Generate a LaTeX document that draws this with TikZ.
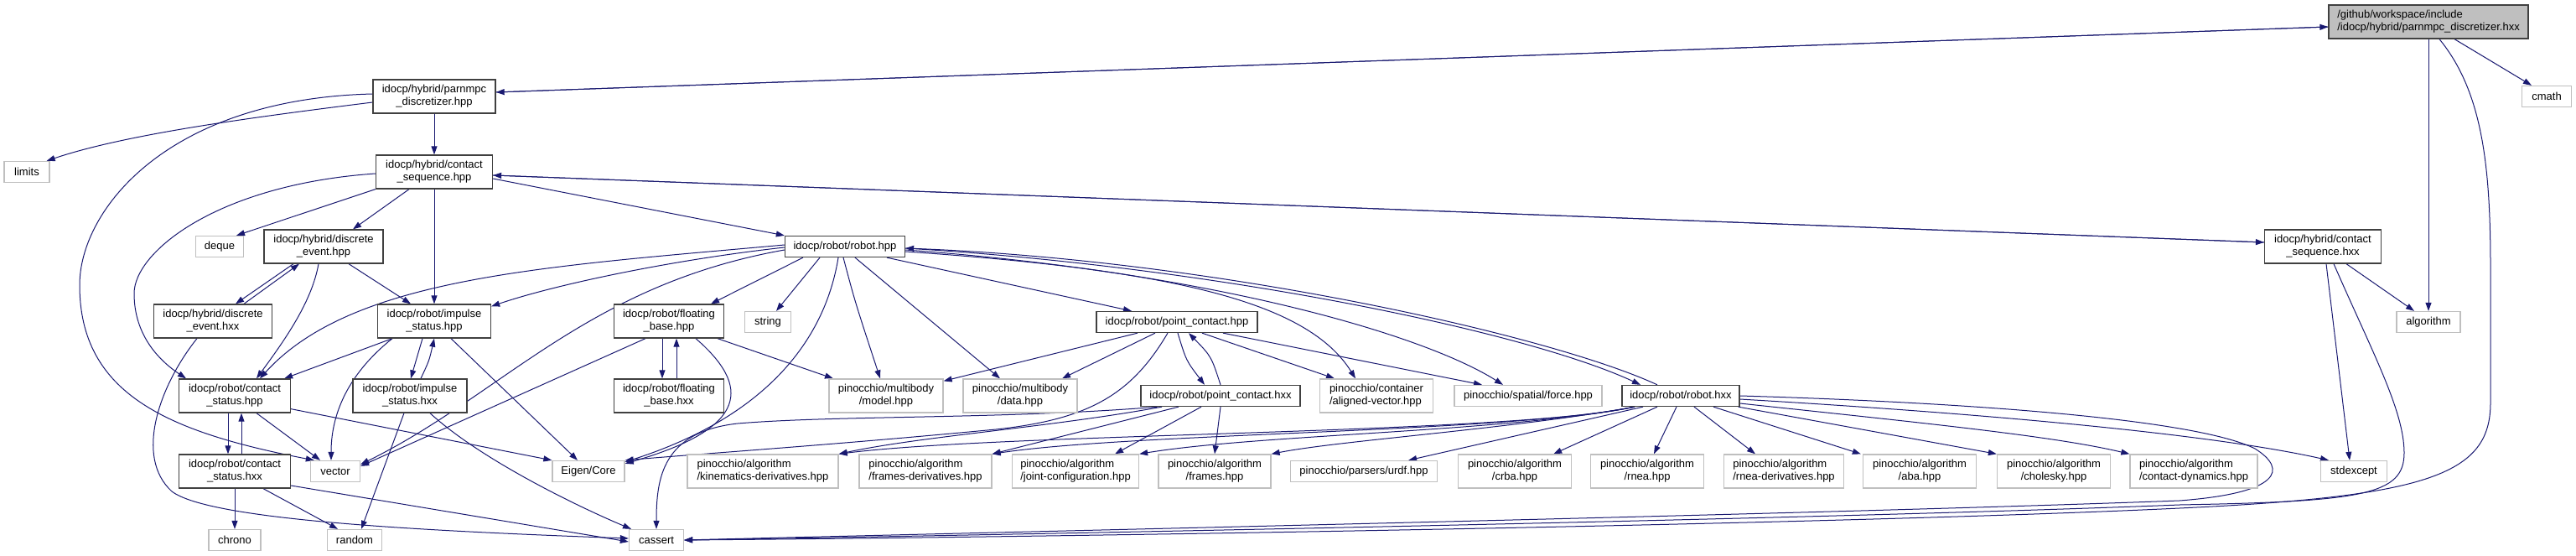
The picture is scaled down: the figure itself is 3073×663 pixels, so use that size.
\documentclass[tikz,border=0pt]{standalone}
\usepackage{fontspec}
\setmainfont{Liberation Sans}
\usetikzlibrary{arrows.meta}
\definecolor{edgeblue}{RGB}{25,25,112}
\definecolor{nodegray}{RGB}{191,191,191}
\definecolor{darkborder}{RGB}{64,64,64}
\pgfdeclarelayer{background}
\pgfsetlayers{background,main}
\begin{document}
\begin{tikzpicture}[x=1pt,y=-1pt,
  every node/.style={font=\fontsize{13}{15}\selectfont, inner xsep=4pt, inner ysep=2pt},
  box/.style={draw=darkborder, fill=white, line width=1.3pt, align=center},
  sysbox/.style={draw=nodegray, fill=white, line width=1.3pt, align=center},
  one/.style={minimum height=25pt},
  two/.style={minimum height=40pt},
  edge/.style={draw=edgeblue, line width=1pt, -{Triangle[length=10pt,width=7pt]}}
]
\useasboundingbox (0,0) rectangle (3073,663);

% ---------- nodes ----------
\node[box,fill=nodegray,two,align=left,minimum width=238pt] (main) at (2897,26) {/github/workspace/include\\/idocp/hybrid/parnmpc\_discretizer.hxx};
\node[sysbox,one,minimum width=59pt] (cmath) at (3038,115) {cmath};
\node[box,two,minimum width=146pt] (pdhpp) at (518,115) {idocp/hybrid/parnmpc\\\_discretizer.hpp};
\node[sysbox,one,minimum width=54pt] (limits) at (32,205) {limits};
\node[box,two,minimum width=139pt] (cshpp) at (518,205) {idocp/hybrid/contact\\\_sequence.hpp};
\node[sysbox,one,minimum width=57pt] (deque) at (262,294) {deque};
\node[box,two,minimum width=142pt] (dehpp) at (386,294) {idocp/hybrid/discrete\\\_event.hpp};
\node[box,one,minimum width=143pt] (robothpp) at (1008,294) {idocp/robot/robot.hpp};
\node[box,two,minimum width=139pt] (cshxx) at (2771,294) {idocp/hybrid/contact\\\_sequence.hxx};
\node[box,two,minimum width=141pt] (dehxx) at (254,383) {idocp/hybrid/discrete\\\_event.hxx};
\node[box,two,minimum width=135pt] (ishpp) at (518,383) {idocp/robot/impulse\\\_status.hpp};
\node[box,two,minimum width=131pt] (fbhpp) at (798,383) {idocp/robot/floating\\\_base.hpp};
\node[sysbox,one,minimum width=55pt] (string) at (916,384) {string};
\node[box,one,minimum width=192pt] (pchpp) at (1404,384) {idocp/robot/point\_contact.hpp};
\node[sysbox,one,minimum width=76pt] (algorithm) at (2897,384) {algorithm};
\node[box,two,minimum width=133pt] (csthpp) at (280,472) {idocp/robot/contact\\\_status.hpp};
\node[box,two,minimum width=136pt] (ishxx) at (489,472) {idocp/robot/impulse\\\_status.hxx};
\node[box,two,minimum width=131pt] (fbhxx) at (798,472) {idocp/robot/floating\\\_base.hxx};
\node[sysbox,two,minimum width=136pt] (model) at (1057,472) {pinocchio/multibody\\/model.hpp};
\node[sysbox,two,minimum width=136pt] (data) at (1217,472) {pinocchio/multibody\\/data.hpp};
\node[box,one,minimum width=190pt] (pchxx) at (1456,472) {idocp/robot/point\_contact.hxx};
\node[sysbox,two,align=left,minimum width=135pt] (avec) at (1642,472) {pinocchio/container\\/aligned-vector.hpp};
\node[sysbox,one,minimum width=176pt] (force) at (1823,472) {pinocchio/spatial/force.hpp};
\node[box,one,minimum width=140pt] (robothxx) at (2005,472) {idocp/robot/robot.hxx};
\node[box,two,minimum width=133pt] (csthxx) at (280,562) {idocp/robot/contact\\\_status.hxx};
\node[sysbox,one,minimum width=59pt] (vector) at (400,562) {vector};
\node[sysbox,one,minimum width=86pt] (eigen) at (702,562) {Eigen/Core};
\node[sysbox,two,align=left,minimum width=180pt] (kd) at (910,562) {pinocchio/algorithm\\/kinematics-derivatives.hpp};
\node[sysbox,two,align=left,minimum width=158pt] (fd) at (1104,562) {pinocchio/algorithm\\/frames-derivatives.hpp};
\node[sysbox,two,align=left,minimum width=151pt] (jc) at (1283,562) {pinocchio/algorithm\\/joint-configuration.hpp};
\node[sysbox,two,minimum width=134pt] (frames) at (1449,562) {pinocchio/algorithm\\/frames.hpp};
\node[sysbox,one,minimum width=175pt] (urdf) at (1627,562) {pinocchio/parsers/urdf.hpp};
\node[sysbox,two,minimum width=135pt] (crba) at (1807,562) {pinocchio/algorithm\\/crba.hpp};
\node[sysbox,two,minimum width=135pt] (rnea) at (1965,562) {pinocchio/algorithm\\/rnea.hpp};
\node[sysbox,two,align=left,minimum width=143pt] (rnead) at (2128,562) {pinocchio/algorithm\\/rnea-derivatives.hpp};
\node[sysbox,two,minimum width=135pt] (aba) at (2290,562) {pinocchio/algorithm\\/aba.hpp};
\node[sysbox,two,minimum width=135pt] (chol) at (2450,562) {pinocchio/algorithm\\/cholesky.hpp};
\node[sysbox,two,align=left,minimum width=152pt] (cdyn) at (2617,562) {pinocchio/algorithm\\/contact-dynamics.hpp};
\node[sysbox,one,minimum width=79pt] (stdexcept) at (2808,562) {stdexcept};
\node[sysbox,one,minimum width=62pt] (chrono) at (280,644) {chrono};
\node[sysbox,one,minimum width=65pt] (random) at (423,644) {random};
\node[sysbox,one,minimum width=65pt] (cassert) at (783,644) {cassert};

% ---------- edges ----------
\begin{pgfonlayer}{background}
% main
\draw[edge] ([yshift=5pt]pdhpp.east) -- ([yshift=-6pt]main.west);
\draw[edge] ([yshift=-6pt]main.west) -- ([yshift=5pt]pdhpp.east);
\draw[edge] ([xshift=31pt]main.south) -- ([xshift=-18pt]cmath.north);
\draw[edge] (main.south) -- (algorithm.north);
\draw[edge] ([xshift=13pt]main.south) .. controls (2962,110) and (2971,200) .. (2971,320) -- (2971,480) .. controls (2971,565) and (2900,592) .. (2600,606) .. controls (2200,625) and (1300,640) .. (cassert.east);
% contact_sequence.hxx
\draw[edge] ([xshift=13pt]cshxx.south) .. controls (2830,420) and (2868,490) .. (2868,540) .. controls (2868,590) and (2820,598) .. (2600,602) .. controls (2200,618) and (1300,636) .. (cassert.east);
\draw[edge] ([xshift=4pt]cshxx.south) -- ([xshift=-5pt]stdexcept.north);
\draw[edge] ([xshift=28pt]cshxx.south) -- ([xshift=-17pt]algorithm.north);
% robot.hxx
\draw[edge] (robothxx.east) .. controls (2350,480) and (2620,500) .. (2690,535) .. controls (2730,560) and (2720,588) .. (2600,597) .. controls (2200,612) and (1300,632) .. (cassert.east);
\draw[edge] ([yshift=-4pt]robothxx.east) .. controls (2400,495) and (2650,520) .. ([xshift=-30pt]stdexcept.north);
\draw[edge] ([yshift=-9pt]robothxx.east) .. controls (2300,505) and (2450,520) .. (cdyn.north west);
\draw[edge] ([xshift=-2pt]robothxx.south east) -- (chol.north west);
\draw[edge] ([xshift=39pt]robothxx.south) -- ([xshift=-2pt]aba.north west);
\draw[edge] ([xshift=16pt]robothxx.south) -- ([xshift=-34pt]rnead.north);
\draw[edge] ([xshift=-5pt]robothxx.south) -- ([xshift=8pt]rnea.north);
\draw[edge] ([xshift=-28pt]robothxx.south) -- ([xshift=-22pt]crba.north east);
\draw[edge] ([xshift=-45pt]robothxx.south) -- ([xshift=-35pt]urdf.north east);
\draw[edge] ([xshift=-55pt]robothxx.south) .. controls (1800,512) and (1600,525) .. (frames.north east);
\draw[edge] ([xshift=-55pt]robothxx.south) .. controls (1800,515) and (1500,518) .. (jc.north east);
\draw[edge] ([xshift=-55pt]robothxx.south) .. controls (1800,516) and (1350,516) .. (fd.north east);
\draw[edge] ([xshift=-55pt]robothxx.south) .. controls (1800,518) and (1200,516) .. (kd.north east);
\draw[edge] ([xshift=-28pt]robothxx.north) .. controls (1850,400) and (1450,310) .. ([yshift=-2pt]robothpp.east);
% robot.hpp
\draw[edge] ([yshift=-2pt]robothpp.east) .. controls (1450,318) and (1820,395) .. ([xshift=-48pt]robothxx.north);
\draw[edge] ([yshift=-4pt]robothpp.east) .. controls (1450,325) and (1700,400) .. ([xshift=-30pt]force.north);
\draw[edge] ([yshift=-6pt]robothpp.east) .. controls (1400,322) and (1560,360) .. ([xshift=-25pt]avec.north);
\draw[edge] ([xshift=50pt]robothpp.south) -- ([xshift=-54pt]pchpp.north);
\draw[edge] ([xshift=12pt]robothpp.south) -- ([xshift=-24pt]data.north);
\draw[edge] ([xshift=-2pt]robothpp.south) .. controls (1020,360) .. ([xshift=-7pt]model.north);
\draw[edge] ([xshift=-8pt]robothpp.south) .. controls (985,400) and (920,495) .. ([yshift=-2pt]eigen.north east);
\draw[edge] ([xshift=-30pt]robothpp.south) -- ([xshift=10pt]string.north);
\draw[edge] ([xshift=-50pt]robothpp.south) -- ([xshift=50pt]fbhpp.north);
\draw[edge] ([yshift=-4pt]robothpp.west) .. controls (700,340) and (600,470) .. ([yshift=-5pt]vector.north east);
\draw[edge] ([yshift=-1pt]robothpp.west) .. controls (800,310) and (660,340) .. ([yshift=-3pt]ishpp.north east);
\draw[edge] ([yshift=2pt]robothpp.west) .. controls (650,318) and (420,330) .. ([xshift=30pt]csthpp.north);
% point_contact
\draw[edge] ([xshift=55pt]pchpp.south) -- ([xshift=-55pt]force.north);
\draw[edge] ([xshift=30pt]pchpp.south) -- ([xshift=-50pt]avec.north);
\draw[edge] ([xshift=-47pt]pchpp.south) -- ([yshift=-3pt]model.north east);
\draw[edge] ([xshift=-26pt]pchpp.south) -- ([xshift=50pt]data.north);
\draw[edge] ([xshift=1pt]pchpp.south) .. controls (1415,430) .. ([xshift=-19pt]pchxx.north);
\draw[edge] (pchxx.north) .. controls (1445,425) .. ([xshift=14pt]pchpp.south);
\draw[edge] ([xshift=-11pt]pchpp.south) .. controls (1350,470) and (1300,500) .. (1188,512) .. controls (1000,530) and (850,540) .. (eigen.north east);
\draw[edge] ([xshift=-70pt]pchxx.south) .. controls (1250,510) and (1100,520) .. (kd.north east);
\draw[edge] ([xshift=-50pt]pchxx.south) -- (fd.north east);
\draw[edge] ([xshift=-23pt]pchxx.south) -- ([xshift=47pt]jc.north);
\draw[edge] (pchxx.south) -- (frames.north);
\draw[edge] ([xshift=-75pt]pchxx.south) .. controls (1200,500) and (1000,495) .. (880,505) .. controls (790,515) and (783,570) .. (cassert.north);
% parnmpc_discretizer.hpp
\draw[edge] (pdhpp) -- (cshpp);
\draw[edge] ([yshift=-7pt]pdhpp.west) .. controls (300,140) and (150,160) .. ([xshift=-4pt]limits.north east);
\draw[edge] ([yshift=3pt]pdhpp.west) .. controls (200,118) and (95,250) .. (95,340) .. controls (95,470) and (200,515) .. ([xshift=5pt]vector.north west);
% contact_sequence.hpp
\draw[edge] (cshpp.south west) -- ([xshift=20pt]deque.north);
\draw[edge] ([xshift=-30pt]cshpp.south) -- ([xshift=35pt]dehpp.north);
\draw[edge] (cshpp) -- (ishpp);
\draw[edge] ([yshift=-2pt]cshpp.west) .. controls (260,220) and (160,300) .. (160,350) .. controls (160,400) and (190,430) .. ([xshift=-58pt]csthpp.north);
\draw[edge] ([yshift=-8pt]cshpp.east) -- (robothpp.north west);
\draw[edge] ([yshift=-4pt]cshpp.east) -- ([yshift=5pt]cshxx.west);
\draw[edge] ([yshift=5pt]cshxx.west) -- ([yshift=-4pt]cshpp.east);
% discrete_event
\draw[edge] ([xshift=-36pt]dehpp.south) -- ([xshift=27pt]dehxx.north);
\draw[edge] ([xshift=37pt]dehxx.north) -- ([xshift=-29pt]dehpp.south);
\draw[edge] ([xshift=-6pt]dehpp.south) .. controls (372,360) and (340,405) .. ([xshift=26pt]csthpp.north);
\draw[edge] ([xshift=30pt]dehpp.south) -- ([xshift=-28pt]ishpp.north);
\draw[edge] ([xshift=-19pt]dehxx.south) .. controls (190,460) and (160,545) .. (205,586) .. controls (250,620) and (500,633) .. ([yshift=2pt]cassert.west);
% impulse_status
\draw[edge] ([xshift=-50pt]ishpp.south) -- ([xshift=-8pt]csthpp.north east);
\draw[edge] ([xshift=-50pt]ishpp.south) .. controls (410,450) and (395,500) .. ([xshift=-5pt]vector.north);
\draw[edge] ([xshift=-14pt]ishpp.south) -- ([xshift=1pt]ishxx.north);
\draw[edge] ([xshift=13pt]ishxx.north) .. controls (512,430) .. (ishpp.south);
\draw[edge] ([xshift=20pt]ishpp.south) -- ([xshift=-13pt]eigen.north);
\draw[edge] ([xshift=-7pt]ishxx.south) -- ([xshift=8pt]random.north);
\draw[edge] ([xshift=24pt]ishxx.south) .. controls (570,545) and (680,600) .. ([xshift=-30pt]cassert.north);
% contact_status
\draw[edge] ([xshift=-8pt]csthpp.south) -- ([xshift=-8pt]csthxx.north);
\draw[edge] ([xshift=8pt]csthxx.north) -- ([xshift=8pt]csthpp.south);
\draw[edge] ([xshift=26pt]csthpp.south) -- ([xshift=-18pt]vector.north);
\draw[edge] ([yshift=5pt]csthpp.south east) -- (eigen.north west);
\draw[edge] (csthxx) -- (chrono);
\draw[edge] ([xshift=34pt]csthxx.south) -- ([xshift=-20pt]random.north);
\draw[edge] ([yshift=-17pt]csthxx.east) -- ([yshift=-2pt]cassert.west);
% floating_base
\draw[edge] ([xshift=-8pt]fbhpp.south) -- ([xshift=-8pt]fbhxx.north);
\draw[edge] ([xshift=9pt]fbhxx.north) -- ([xshift=9pt]fbhpp.south);
\draw[edge] ([xshift=-28pt]fbhpp.south) -- ([yshift=-7pt]vector.north east);
\draw[edge] ([xshift=58pt]fbhpp.south) -- ([xshift=-63pt]model.north);
\draw[edge] ([xshift=32pt]fbhpp.south) .. controls (895,460) and (895,510) .. ([yshift=-4pt]eigen.north east);
\end{pgfonlayer}
\end{tikzpicture}
\end{document}
